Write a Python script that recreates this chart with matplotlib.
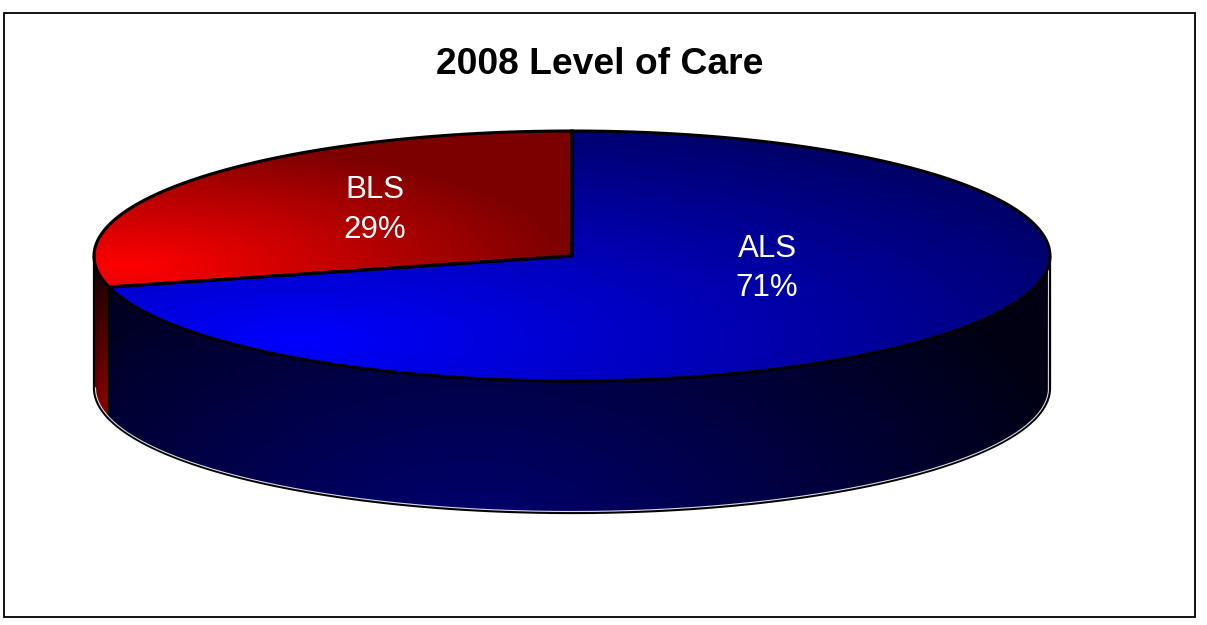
import numpy as np
import matplotlib
matplotlib.use("Agg")
import matplotlib.pyplot as plt
from matplotlib.patches import Polygon, Rectangle

title = "2008 Level of Care"
labels = ["ALS", "BLS"]
values = [71, 29]

W, H = 1207, 625
CX, CY, RX, RY, DEPTH = 572, 256, 478, 125, 132

plt.rcParams['font.family'] = ['Liberation Sans', 'DejaVu Sans']
fig = plt.figure(figsize=(W / 100, H / 100), dpi=100)
ax = fig.add_axes([0, 0, 1, 1])
ax.set_xlim(0, W)
ax.set_ylim(H, 0)
ax.axis('off')

def rim(a0, a1, n=300, dy=0, inset=0):
    t = np.radians(np.linspace(a0, a1, n))
    return (CX + (RX - inset) * np.sin(t)), (CY - (RY - inset) * np.cos(t) + dy)

yy, xx = np.mgrid[0:H, 0:W]

def shade(channel, c, radii, hi, lo):
    d = np.sqrt(((xx - c[0]) / radii[0]) ** 2 + ((yy - c[1]) / radii[1]) ** 2)
    v = np.clip(hi + (lo - hi) * np.clip(d, 0, 1), 0, 255) / 255
    img = np.zeros((H, W, 3))
    img[..., channel] = v
    return img

def fill(points, img, z):
    p = Polygon(points, closed=True, facecolor='none', edgecolor='none', zorder=z)
    ax.add_patch(p)
    im = ax.imshow(img, extent=(0, W, H, 0), origin='upper', aspect='auto',
                   interpolation='bilinear', zorder=z)
    im.set_clip_path(p)

ax.set_xlim(0, W)
ax.set_ylim(H, 0)

total = sum(values)
a_als_end = 360 * values[0] / total

# side walls (only the front half of the rim, 90..270 degrees clockwise from top)
x, y = rim(90, a_als_end)
pts = np.r_[np.c_[x, y], np.c_[x, y + DEPTH][::-1]]
fill(pts, shade(2, (470, 560), (640, 400), 118, 18), 2)
x, y = rim(a_als_end, 270, 60)
pts2 = np.r_[np.c_[x, y], np.c_[x, y + DEPTH][::-1]]
fill(pts2, shade(0, (104, 410), (30, 150), 140, 20), 2)
ax.add_patch(Polygon(pts, closed=True, fill=False, ec='black', lw=1.6, zorder=3))
ax.add_patch(Polygon(pts2, closed=True, fill=False, ec='black', lw=1.6, zorder=3))

# outer highlight of the wall
xo, yo = rim(90, 270, inset=1.5, dy=DEPTH)
ax.plot(np.r_[CX + RX - 1.5, xo, CX - RX + 1.5],
        np.r_[CY + 6, yo, CY + DEPTH],
        color='white', lw=0.8, alpha=0.85, zorder=4)

# top faces
x, y = rim(0, a_als_end)
top_a = np.r_[[[CX, CY]], np.c_[x, y]]
fill(top_a, shade(2, (300, 340), (850, 235), 255, 105), 5)
x, y = rim(a_als_end, 360, 150)
top_b = np.r_[[[CX, CY]], np.c_[x, y]]
fill(top_b, shade(0, (130, 265), (440, 125), 255, 125), 5)
for t in (top_a, top_b):
    ax.add_patch(Polygon(t, closed=True, fill=False, ec='black', lw=2.2,
                         joinstyle='miter', zorder=6))

# labels
ax.text(767, 268.5, f"{labels[0]}\n{values[0]}%", color='white', fontsize=22.5,
        ha='center', va='center', linespacing=1.42, zorder=7)
ax.text(375, 210, f"{labels[1]}\n{values[1]}%", color='white', fontsize=22.5,
        ha='center', va='center', linespacing=1.42, zorder=7)

ax.text(600, 64, title, fontsize=26.8, fontweight='bold', color='black',
        ha='center', va='center', zorder=7)

ax.add_patch(Rectangle((3.5, 12.5), 1191, 604, fill=False, ec='black', lw=1.3, zorder=8))

fig.savefig("out.png", dpi=100, facecolor='white')
